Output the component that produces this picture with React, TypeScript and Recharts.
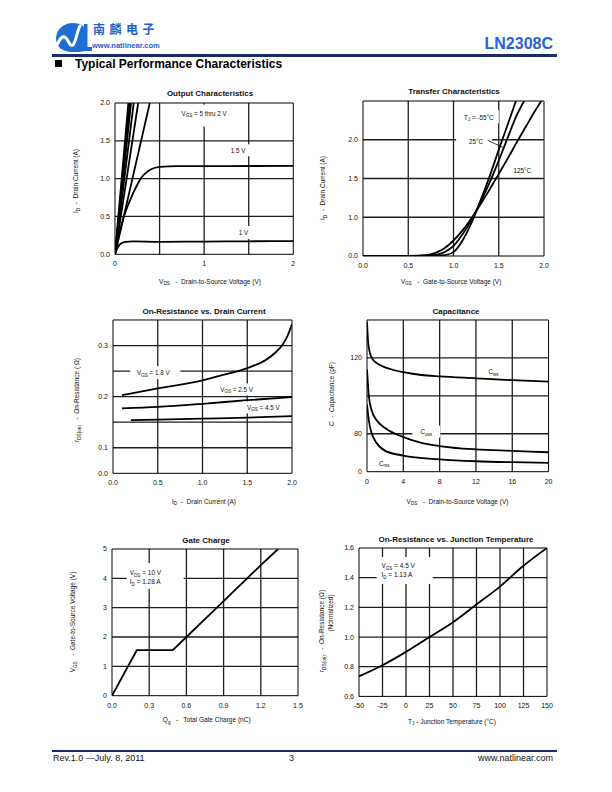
import React from 'react';
import { LineChart, Line, XAxis, YAxis, ReferenceLine, ReferenceDot } from 'recharts';

const FONT = '"Liberation Sans", Arial, Helvetica, sans-serif';
const BLUE = '#1f5fc8';
const NAVY = '#1b2a6b';

// ---------- Output Characteristics ----------
const outTicksX = [0, 1, 2];
const outTickLabelsX = ['0', '1', '2'];
const outTicksY = [0, 0.5, 1, 1.5, 2];
const outTickLabelsY = ['0.0', '0.5', '1.0', '1.5', '2.0'];
const outGridX = [0.5, 1, 1.5];
const outGridY = [0.5, 1, 1.5];
const outVgs5X = [0, 0.15];
const outVgs5Y = [0, 2.0];
const outVgs45X = [0, 0.165];
const outVgs45Y = [0, 2.0];
const outVgs4X = [0, 0.18];
const outVgs4Y = [0, 2.0];
const outVgs3X = [0, 0.21];
const outVgs3Y = [0, 2.0];
const outVgs25X = [0, 0.26];
const outVgs25Y = [0, 2.0];
const outVgs2X = [0, 0.04, 0.39];
const outVgs2Y = [0, 0.2, 2.0];
const outVgs15X = [0, 0.05, 0.1, 0.15, 0.2, 0.25, 0.3, 0.35, 0.4, 0.5, 0.7, 1.0, 2.0];
const outVgs15Y = [0, 0.28, 0.5, 0.66, 0.8, 0.92, 1.02, 1.08, 1.12, 1.155, 1.165, 1.165, 1.17];
const outVgs1X = [0, 0.03, 0.07, 0.12, 0.2, 0.5, 1.0, 1.5, 2.0];
const outVgs1Y = [0, 0.09, 0.145, 0.165, 0.17, 0.165, 0.168, 0.172, 0.175];

// ---------- Transfer Characteristics ----------
const trTicksX = [0, 0.5, 1, 1.5, 2];
const trTickLabelsX = ['0.0', '0.5', '1.0', '1.5', '2.0'];
const trTicksY = [0.5, 1, 1.5, 2];
const trTickLabelsY = ['0.0', '1.0', '1.5', '2.0'];
const trGridX = [0.5, 1, 1.5];
const trGridY = [1, 1.5, 2];
const tr125X = [0, 0.5, 0.7, 0.8, 0.9, 1.0, 1.1, 1.2, 1.3, 1.4, 1.5, 1.6, 1.7, 1.8, 1.9, 1.97];
const tr125Y = [0.5, 0.5, 0.51, 0.54, 0.6, 0.7, 0.83, 0.99, 1.17, 1.36, 1.56, 1.76, 1.97, 2.17, 2.37, 2.5];
const tr25X = [0, 0.6, 0.8, 0.9, 1.0, 1.1, 1.2, 1.3, 1.4, 1.5, 1.6, 1.7, 1.78];
const tr25Y = [0.5, 0.5, 0.515, 0.55, 0.63, 0.78, 0.97, 1.2, 1.45, 1.73, 2.03, 2.32, 2.5];
const trM55X = [0, 0.8, 0.9, 1.0, 1.1, 1.2, 1.3, 1.4, 1.5, 1.6, 1.69];
const trM55Y = [0.5, 0.5, 0.51, 0.55, 0.7, 0.93, 1.22, 1.53, 1.87, 2.2, 2.5];

// ---------- On-Resistance vs Drain Current ----------
const rdTicksX = [0, 0.5, 1, 1.5, 2];
const rdTickLabelsX = ['0.0', '0.5', '1.0', '1.5', '2.0'];
const rdTicksY = [0.05, 0.1, 0.2, 0.3];
const rdTickLabelsY = ['0.0', '0.1', '0.2', '0.3'];
const rdGridX = [0.5, 1, 1.5];
const rdGridY = [0.1, 0.15, 0.2, 0.25, 0.3];
const rd18X = [0.1, 0.5, 1.0, 1.25, 1.5, 1.7, 1.8, 1.9, 1.95, 2.0];
const rd18Y = [0.203, 0.216, 0.232, 0.2435, 0.256, 0.271, 0.284, 0.303, 0.319, 0.342];
const rd25X = [0.1, 0.5, 1.0, 1.5, 2.0];
const rd25Y = [0.177, 0.18, 0.186, 0.193, 0.199];
const rd45X = [0.2, 1.0, 1.5, 2.0];
const rd45Y = [0.154, 0.157, 0.159, 0.162];

// ---------- Capacitance ----------
const capTicksX = [0, 4, 8, 12, 16, 20];
const capTickLabelsX = ['0', '4', '8', '12', '16', '20'];
const capTicksY = [0, 40, 120];
const capTickLabelsY = ['0', '80', '120'];
const capGridX = [4, 8, 12, 16];
const capGridY = [40, 80, 120];
const cissX = [0, 0.1, 0.3, 0.6, 1, 2, 3, 4, 6, 8, 12, 16, 20];
const cissY = [158, 140, 126, 119, 115, 110, 107, 105, 102, 100.5, 98.5, 96.5, 95];
const cossX = [0, 0.2, 0.5, 1, 2, 4, 6, 8, 12, 16, 20];
const cossY = [108, 80, 65, 55, 46, 36.5, 30.5, 27, 23.5, 22, 20.5];
const crssX = [0, 0.2, 0.5, 1, 2, 4, 8, 12, 16, 20];
const crssY = [71, 54, 41, 31, 22, 17, 13, 11, 10, 9.4];

// ---------- Gate Charge ----------
const gcTicksX = [0, 0.3, 0.6, 0.9, 1.2, 1.5];
const gcTickLabelsX = ['0.0', '0.3', '0.6', '0.9', '1.2', '1.5'];
const gcTicksY = [0, 1, 2, 3, 4, 5];
const gcTickLabelsY = ['0', '1', '2', '3', '4', '5'];
const gcGridX = [0.3, 0.6, 0.9, 1.2];
const gcGridY = [1, 2, 3, 4];
const gcQgX = [0, 0.2, 0.49, 0.6, 0.9, 1.2, 1.34];
const gcVgsY = [0, 1.55, 1.55, 2.0, 3.22, 4.45, 5.0];

// ---------- On-Resistance vs Junction Temperature ----------
const tjTicksX = [-50, -25, 0, 25, 50, 75, 100, 125, 150];
const tjTickLabelsX = ['-50', '-25', '0', '25', '50', '75', '100', '125', '150'];
const tjTicksY = [0.6, 0.8, 1.0, 1.2, 1.4, 1.6];
const tjTickLabelsY = ['0.6', '0.8', '1.0', '1.2', '1.4', '1.6'];
const tjGridX = [-25, 0, 25, 50, 75, 100, 125];
const tjGridY = [0.8, 1.0, 1.2, 1.4];
const tjTempX = [-50, -25, 0, 25, 50, 75, 100, 125, 150];
const tjRdsY = [0.735, 0.81, 0.9, 1.0, 1.1, 1.22, 1.34, 1.48, 1.6];

const zip = (xs: number[], ys: number[]) => xs.map((x, i) => ({ x, y: ys[i] }));

const sub = (s: string) => (
  <span style={{ fontSize: '0.72em', position: 'relative', top: '0.35em' }}>{s}</span>
);

function Lbl({ x, y, size = 6.5, bold = false, rot = false, children }: any) {
  return (
    <div
      style={{
        position: 'absolute',
        left: x,
        top: y,
        transform: `translate(-50%, -50%)${rot ? ' rotate(-90deg)' : ''}`,
        fontSize: size,
        fontFamily: FONT,
        fontWeight: bold ? 'bold' : 'normal',
        whiteSpace: 'pre',
        lineHeight: 1,
        color: '#111',
      }}
    >
      {children}
    </div>
  );
}

function ann(box: number[], content: React.ReactNode, extra?: React.ReactNode) {
  return (p: any) => (
    <g>
      <rect x={p.cx + box[0]} y={p.cy + box[1]} width={box[2]} height={box[3]} fill="#fff" />
      {extra ? extra : null}
      <text x={p.cx} y={p.cy + 2.3} textAnchor="middle" fontSize={6.3} fontFamily={FONT} fill="#111">
        {content}
      </text>
    </g>
  );
}

function ann2(box: number[], line1: React.ReactNode, line2: React.ReactNode, lx: number) {
  return (p: any) => (
    <g>
      <rect x={p.cx + box[0]} y={p.cy + box[1]} width={box[2]} height={box[3]} fill="#fff" />
      <text x={p.cx + lx} y={p.cy - 2} fontSize={6.5} fontFamily={FONT} fill="#111">
        {line1}
      </text>
      <text x={p.cx + lx} y={p.cy + 7} fontSize={6.5} fontFamily={FONT} fill="#111">
        {line2}
      </text>
    </g>
  );
}

const S = (main: string, s: string, rest: string) => [
  <tspan key="a">{main}</tspan>,
  <tspan key="b" fontSize={4.6} dy={1.6}>{s}</tspan>,
  <tspan key="c" dy={-1.6}>{rest}</tspan>,
];

function Panel({ l, t, r, b, xDomain, yDomain, xTicks, xLabels, yTicks, yLabels, xGrid, yGrid, children }: any) {
  const padL = 40, padT = 6, padR = 8, padB = 22;
  const w = r - l + padL + padR;
  const h = b - t + padT + padB;
  const tickStyle = { fontSize: 7, fill: '#111', fontFamily: FONT };
  return (
    <div style={{ position: 'absolute', left: l - padL, top: t - padT }}>
      <LineChart width={w} height={h} margin={{ top: padT, right: padR, bottom: 0, left: 0 }}>
        <XAxis
          type="number"
          dataKey="x"
          domain={xDomain}
          ticks={xTicks}
          interval={0}
          allowDataOverflow
          tickFormatter={(v: number) => xLabels[xTicks.indexOf(v)]}
          height={padB}
          axisLine={false}
          tickLine={false}
          tickSize={3}
          tickMargin={4}
          tick={tickStyle}
        />
        <YAxis
          type="number"
          dataKey="y"
          domain={yDomain}
          ticks={yTicks}
          interval={0}
          allowDataOverflow
          tickFormatter={(v: number) => yLabels[yTicks.indexOf(v)]}
          width={padL}
          axisLine={false}
          tickLine={false}
          tickSize={3}
          tickMargin={2}
          tick={tickStyle}
        />
        {xGrid.map((v: number) => (
          <ReferenceLine key={'gx' + v} x={v} stroke="#1e1e1e" strokeWidth={1.3} />
        ))}
        {yGrid.map((v: number) => (
          <ReferenceLine key={'gy' + v} y={v} stroke="#1e1e1e" strokeWidth={1.3} />
        ))}
        <ReferenceLine x={xDomain[0]} stroke="#000" strokeWidth={1} />
        <ReferenceLine x={xDomain[1]} stroke="#000" strokeWidth={1} />
        <ReferenceLine y={yDomain[0]} stroke="#000" strokeWidth={1} />
        <ReferenceLine y={yDomain[1]} stroke="#000" strokeWidth={1} />
        {children}
      </LineChart>
    </div>
  );
}

const curve = (key: string, xs: number[], ys: number[], type: any = 'monotone') => (
  <Line
    key={key}
    data={zip(xs, ys)}
    dataKey="y"
    type={type}
    stroke="#000"
    strokeWidth={1.8}
    dot={false}
    activeDot={false}
    isAnimationActive={false}
  />
);

function Logo() {
  return (
    <svg width={40} height={32} style={{ position: 'absolute', left: 54, top: 21 }} viewBox="0 0 40 32">
      <path d="M2,18 C2,8 10,2 19,2 C26,2 30,5 31,8 L31,30 C27,31 22,31 18,31 C9,31 2,26 2,18 Z" fill="#1d6fd6" />
      <path d="M3,24 C6,17 9,14 12,17 C15,20 16,26 19,24 C22,21 23,10 26,5" stroke="#fff" strokeWidth={3} fill="none" strokeLinecap="round" />
      <path d="M30,3 L33.5,3 L33.5,26 L38,26 L38,30 L30,30 Z" fill="#1d6fd6" />
    </svg>
  );
}

export default function App() {
  return (
    <div style={{ position: 'absolute', left: 0, top: 0, width: 612, height: 792, background: '#fff', overflow: 'hidden' }}>
      {/* Header */}
      <Logo />
      <div style={{ position: 'absolute', left: 93, top: 23, fontSize: 12, letterSpacing: 4.5, color: BLUE, fontFamily: '"Noto Sans CJK SC", sans-serif', fontWeight: 'bold', lineHeight: 1 }}>
        南麟电子
      </div>
      <div style={{ position: 'absolute', left: 92, top: 41.5, fontSize: 7.5, color: BLUE, fontFamily: FONT, fontWeight: 'bold', lineHeight: 1 }}>
        www.natlinear.com
      </div>
      <div style={{ position: 'absolute', right: 59, top: 36, fontSize: 16, color: '#2563d6', fontFamily: FONT, fontWeight: 'bold', lineHeight: 1 }}>
        LN2308C
      </div>
      <div style={{ position: 'absolute', left: 52, top: 53.5, width: 505, height: 3, background: NAVY }} />
      <div style={{ position: 'absolute', left: 55, top: 60, width: 7, height: 7, background: '#000' }} />
      <div style={{ position: 'absolute', left: 75, top: 57.5, fontSize: 12, fontFamily: FONT, fontWeight: 'bold', lineHeight: 1.1, color: '#000' }}>
        Typical Performance Characteristics
      </div>

      {/* Chart 1: Output Characteristics */}
      <Lbl x={210} y={94} size={8} bold>Output Characteristics</Lbl>
      <Panel l={115} t={102.7} r={293.3} b={254} xDomain={[0, 2]} yDomain={[0, 2]}
        xTicks={outTicksX} xLabels={outTickLabelsX} yTicks={outTicksY} yLabels={outTickLabelsY}
        xGrid={outGridX} yGrid={outGridY}>
        <ReferenceDot x={1.0} y={1.86} r={0} ifOverflow="visible"
          shape={ann([-29, -9, 58, 22], S('V', 'GS', ' = 5 thru 2 V'))} />
        <ReferenceDot x={1.38} y={1.375} r={0} ifOverflow="visible"
          shape={ann([-12, -6, 26, 12], '1.5 V')} />
        <ReferenceDot x={1.44} y={0.28} r={0} ifOverflow="visible"
          shape={ann([-10, -7, 21, 13], '1 V')} />
        {curve('v5', outVgs5X, outVgs5Y, 'linear')}
        {curve('v45', outVgs45X, outVgs45Y, 'linear')}
        {curve('v4', outVgs4X, outVgs4Y, 'linear')}
        {curve('v3', outVgs3X, outVgs3Y, 'linear')}
        {curve('v25', outVgs25X, outVgs25Y, 'linear')}
        {curve('v2', outVgs2X, outVgs2Y)}
        {curve('v15', outVgs15X, outVgs15Y)}
        {curve('v1', outVgs1X, outVgs1Y)}
      </Panel>
      <Lbl x={210} y={281.7}>V{sub('DS')}   -  Drain-to-Source Voltage (V)</Lbl>
      <Lbl x={76} y={181} rot>I{sub('D')}  -  Drain Current (A)</Lbl>

      {/* Chart 2: Transfer Characteristics */}
      <Lbl x={454} y={91.7} size={8} bold>Transfer Characteristics</Lbl>
      <Panel l={363.3} t={100.7} r={544.3} b={255.7} xDomain={[0, 2]} yDomain={[0.5, 2.5]}
        xTicks={trTicksX} xLabels={trTickLabelsX} yTicks={trTicksY} yLabels={trTickLabelsY}
        xGrid={trGridX} yGrid={trGridY}>
        <ReferenceDot x={1.28} y={2.29} r={0} ifOverflow="visible"
          shape={ann([-22, -7, 42, 13], S('T', 'J', ' = -55°C'))} />
        <ReferenceDot x={1.25} y={1.97} r={0} ifOverflow="visible"
          shape={(p: any) => ann([-20, -6, 36, 12], '25°C',
            <line x1={p.cx + 11.6} y1={p.cy - 1.7} x2={p.cx + 27.6} y2={p.cy + 5.6} stroke="#111" strokeWidth={0.8} />)(p)} />
        <ReferenceDot x={1.76} y={1.6} r={0} ifOverflow="visible"
          shape={ann([-13, -6, 26, 12], '125°C')} />
        {curve('t125', tr125X, tr125Y)}
        {curve('t25', tr25X, tr25Y)}
        {curve('tm55', trM55X, trM55Y)}
      </Panel>
      <Lbl x={451} y={281.7}>V{sub('GS')}   -  Gate-to-Source Voltage (V)</Lbl>
      <Lbl x={323.3} y={188} rot>I{sub('D')}  -  Drain Current (A)</Lbl>

      {/* Chart 3: On-Resistance vs. Drain Current */}
      <Lbl x={204} y={311.7} size={8} bold>On-Resistance vs. Drain Current</Lbl>
      <Panel l={113.3} t={320} r={292.3} b={473.3} xDomain={[0, 2]} yDomain={[0.05, 0.35]}
        xTicks={rdTicksX} xLabels={rdTickLabelsX} yTicks={rdTicksY} yLabels={rdTickLabelsY}
        xGrid={rdGridX} yGrid={rdGridY}>
        <ReferenceDot x={0.45} y={0.247} r={0} ifOverflow="visible"
          shape={ann([-23, -6.5, 50, 13], S('V', 'GS', ' = 1.8 V'))} />
        <ReferenceDot x={1.38} y={0.214} r={0} ifOverflow="visible"
          shape={ann([-21.5, -6, 43, 12], S('V', 'GS', ' = 2.5 V'))} />
        <ReferenceDot x={1.68} y={0.179} r={0} ifOverflow="visible"
          shape={ann([-20, -6, 40, 12], S('V', 'GS', ' = 4.5 V'))} />
        {curve('r18', rd18X, rd18Y)}
        {curve('r25', rd25X, rd25Y)}
        {curve('r45', rd45X, rd45Y)}
      </Panel>
      <Lbl x={204} y={501.7}>I{sub('D')}  -  Drain Current (A)</Lbl>
      <Lbl x={77.3} y={400} rot>r{sub('DS(on)')}   -  On-Resistance ( Ω)</Lbl>

      {/* Chart 4: Capacitance */}
      <Lbl x={456} y={311.7} size={8} bold>Capacitance</Lbl>
      <Panel l={366.7} t={320} r={548.3} b={471.7} xDomain={[0, 20]} yDomain={[0, 160]}
        xTicks={capTicksX} xLabels={capTickLabelsX} yTicks={capTicksY} yLabels={capTickLabelsY}
        xGrid={capGridX} yGrid={capGridY}>
        <ReferenceDot x={13.94} y={105.5} r={0} ifOverflow="visible"
          shape={ann([-9, -6, 18, 12], S('C', 'iss', ''))} />
        <ReferenceDot x={6.53} y={42.2} r={0} ifOverflow="visible"
          shape={ann([-14, -6, 28, 12], S('C', 'oss', ''))} />
        <ReferenceDot x={1.9} y={8.9} r={0} ifOverflow="visible"
          shape={ann([-9, -5, 18, 10], S('C', 'rss', ''))} />
        {curve('ciss', cissX, cissY)}
        {curve('coss', cossX, cossY)}
        {curve('crss', crssX, crssY)}
      </Panel>
      <Lbl x={457.5} y={501.7}>V{sub('DS')}   -  Drain-to-Source Voltage (V)</Lbl>
      <Lbl x={331.7} y={394} rot>C  -  Capacitance (pF)</Lbl>

      {/* Chart 5: Gate Charge */}
      <Lbl x={206} y={540.7} size={8} bold>Gate Charge</Lbl>
      <Panel l={112.3} t={549} r={298.3} b={695.7} xDomain={[0, 1.5]} yDomain={[0, 5]}
        xTicks={gcTicksX} xLabels={gcTickLabelsX} yTicks={gcTicksY} yLabels={gcTickLabelsY}
        xGrid={gcGridX} yGrid={gcGridY}>
        <ReferenceDot x={0.304} y={4.03} r={0} ifOverflow="visible"
          shape={ann2([-23, -14.5, 57, 26], S('V', 'DS', ' = 10  V'), S('I', 'D', ' = 1.28  A'), -20)} />
        {curve('qg', gcQgX, gcVgsY, 'linear')}
      </Panel>
      <Lbl x={206.7} y={720}>Q{sub('g')}   -   Total Gate Charge (nC)</Lbl>
      <Lbl x={72.7} y={621.7} rot>V{sub('GS')}   -  Gate-to-Source Voltage (V)</Lbl>

      {/* Chart 6: On-Resistance vs. Junction Temperature */}
      <Lbl x={456} y={540} size={8} bold>On-Resistance vs. Junction Temperature</Lbl>
      <Panel l={359.3} t={548.3} r={547.3} b={696.7} xDomain={[-50, 150]} yDomain={[0.6, 1.6]}
        xTicks={tjTicksX} xLabels={tjTickLabelsX} yTicks={tjTicksY} yLabels={tjTickLabelsY}
        xGrid={tjGridX} yGrid={tjGridY}>
        <ReferenceDot x={-4.9} y={1.45} r={0} ifOverflow="visible"
          shape={ann2([-24.7, -13.3, 56, 27], S('V', 'GS', ' = 4.5 V'), S('I', 'D', ' = 1.13 A'), -20)} />
        {curve('tj', tjTempX, tjRdsY)}
      </Panel>
      <Lbl x={452} y={721.7}>T{sub('J')} - Junction Temperature (°C)</Lbl>
      <Lbl x={321.7} y={631} rot>r{sub('DS(on)')}   -  On-Resistance (Ω)</Lbl>
      <Lbl x={330.7} y={613} rot>(Normalized)</Lbl>

      {/* Footer */}
      <div style={{ position: 'absolute', left: 52, top: 749.5, width: 505, height: 2.5, background: NAVY }} />
      <div style={{ position: 'absolute', left: 53, top: 754, fontSize: 9, fontFamily: FONT, lineHeight: 1, color: '#111' }}>
        Rev.1.0 —July. 8, 2011
      </div>
      <div style={{ position: 'absolute', left: 289, top: 754, fontSize: 9, fontFamily: FONT, lineHeight: 1, color: '#111' }}>
        3
      </div>
      <div style={{ position: 'absolute', right: 59, top: 754, fontSize: 9, fontFamily: FONT, lineHeight: 1, color: '#111' }}>
        www.natlinear.com
      </div>
    </div>
  );
}
